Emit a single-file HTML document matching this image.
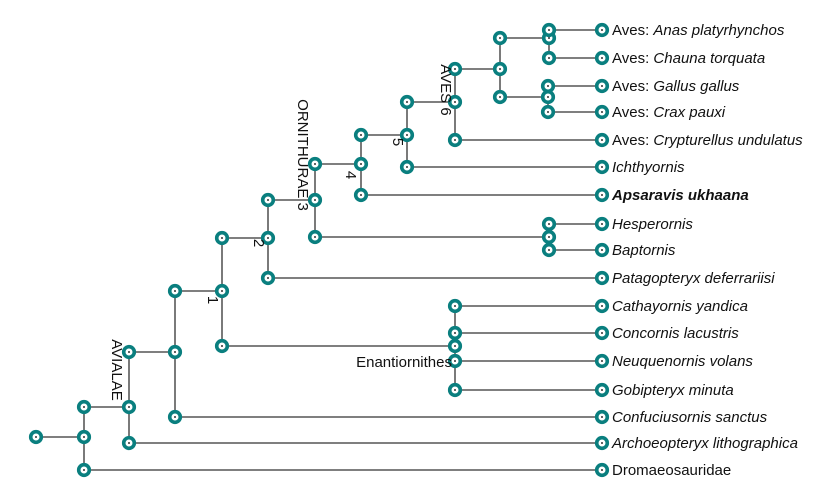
<!DOCTYPE html>
<html><head><meta charset="utf-8"><style>
html,body{margin:0;padding:0;background:#fff;width:826px;height:492px;overflow:hidden}
svg{display:block}
text{font-family:"Liberation Sans",sans-serif;font-size:15px;fill:#111}
</style></head><body>
<svg id="tree" width="826" height="492"></svg>
<script>
// leaf names and y rows
const leafNames = ["Aves: |Anas platyrhynchos","Aves: |Chauna torquata","Aves: |Gallus gallus","Aves: |Crax pauxi","Aves: |Crypturellus undulatus","|Ichthyornis","*Apsaravis ukhaana","|Hesperornis","|Baptornis","|Patagopteryx deferrariisi","|Cathayornis yandica","|Concornis lacustris","|Neuquenornis volans","|Gobipteryx minuta","|Confuciusornis sanctus","|Archoeopteryx lithographica","Dromaeosauridae"];
const leafY = [30,58,86,112,140,167,195,224,250,278,306,333,361,390,417,443,470];
const leafX = 602;
// internal nodes: id, x, y, children (leaf index numbers or node ids)
const nodeIds = ["n0","n1","n2","n3","enant","n4","n5","hb","n6","n7","n8","n9","n10","n11"];
const nodeX = [84,129,175,222,455,268,315,549,361,407,455,500,549,548];
const nodeY = [437,407,352,291,346,238,200,237,164,135,102,69,38,97];
const nodeKids = [["n1",16],["n2",15],["n3",14],["n4","enant"],[10,11,12,13],["n5",9],["n6","hb"],[7,8],["n7",6],["n8",5],["n9",4],["n10","n11"],[0,1],[2,3]];
const rootX = 36, rootY = 437;
const cladeLabels = [["1",208,300,90],["2",254,243,90],["ORNITHURAE 3",298,155,90],["4",346,175,90],["5",393,142,90],["AVES 6",441,90,90],["AVIALAE",112,370,90],["Enantiornithes",452,367,0]];

const svg = document.getElementById('tree');
const NS = "http://www.w3.org/2000/svg";
function mk(t, a){const e=document.createElementNS(NS,t);for(const k in a)e.setAttribute(k,a[k]);return e;}
function pos(c){ if(typeof c==="number") return [leafX, leafY[c]]; const i=nodeIds.indexOf(c); return [nodeX[i], nodeY[i]]; }
const lines = mk('g',{stroke:'#333','stroke-width':1.3,fill:'none'});


svg.appendChild(lines);
const dots = mk('g',{});


svg.appendChild(dots);
const pts = [];
lines.appendChild(mk('line',{x1:rootX,y1:rootY,x2:nodeX[0],y2:nodeY[0]}));
pts.push([rootX,rootY]);
nodeIds.forEach((id,i)=>{
  const x=nodeX[i], ys=nodeKids[i].map(c=>pos(c)[1]);
  const v = mk('line',{x1:x,y1:Math.min(...ys,nodeY[i]),x2:x,y2:Math.max(...ys,nodeY[i])});
  
  
  lines.appendChild(v);
  pts.push([x,nodeY[i]]);
  nodeKids[i].forEach(c=>{
    const p=pos(c);
    const h=mk('line',{x1:x,y1:p[1],x2:p[0],y2:p[1]});
    
    
    lines.appendChild(h);
    pts.push([x,p[1]]);
  });
});
leafY.forEach(y=>pts.push([leafX,y]));
pts.forEach(p=>{
  const c=mk('circle',{cx:p[0],cy:p[1],r:5.3,fill:'#fff',stroke:'#0a7f7f','stroke-width':3.6});
  
  
  dots.appendChild(c);
  dots.appendChild(mk('circle',{cx:p[0],cy:p[1],r:1,fill:'#333'}));
});
leafNames.forEach((n,i)=>{
  const t=mk('text',{x:612,y:leafY[i]+5});
  
  
  if(n[0]==='*'){t.setAttribute('font-style','italic');t.setAttribute('font-weight','bold');t.textContent=n.slice(1);}
  else{const parts=n.split('|');
    if(parts[0]){const a=mk('tspan',{});a.textContent=parts[0];t.appendChild(a);}
    if(parts.length>1){const b=mk('tspan',{'font-style':'italic'});b.textContent=parts[1];t.appendChild(b);}
  }
  svg.appendChild(t);
});
cladeLabels.forEach(l=>{
  const t=mk('text',{x:l[1],y:l[2],'text-anchor':l[3]?'middle':'end',transform:l[3]?`rotate(90 ${l[1]} ${l[2]})`:''});
  
  
  t.textContent=l[0];
  svg.appendChild(t);
});
</script>
</body></html>
